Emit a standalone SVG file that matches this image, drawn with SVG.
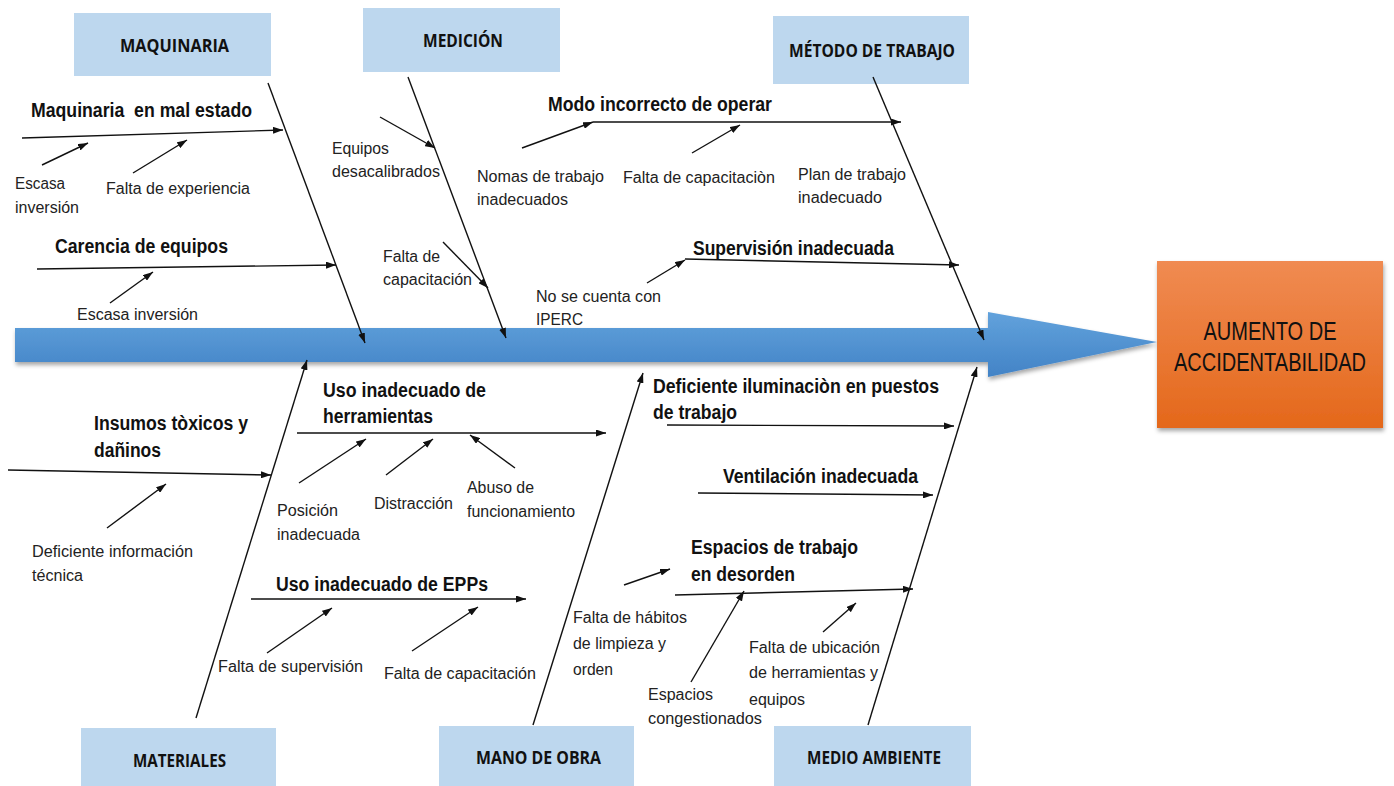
<svg xmlns="http://www.w3.org/2000/svg" width="1394" height="786" viewBox="0 0 1394 786">
<style>
.cat{fill:#bdd7ee}
.ct{font-family:"Open Sans","Liberation Sans",sans-serif;font-weight:bold;font-size:17px;fill:#111}
.b{font-family:"Liberation Sans",Arial,sans-serif;font-weight:bold;font-size:20px;fill:#111}
.s{font-family:"Liberation Sans",Arial,sans-serif;font-size:16px;fill:#222}
.h{font-family:"Liberation Sans",Arial,sans-serif;font-size:26px;fill:#111}
.ln{stroke:#111;stroke-width:1.4;fill:none;marker-end:url(#ah)}
</style>
<defs>
<marker id="ah" markerUnits="userSpaceOnUse" markerWidth="10" markerHeight="7" refX="10" refY="3.5" orient="auto">
<path d="M0,0 L10,3.5 L0,7 z" fill="#111"/>
</marker>
<linearGradient id="gb" x1="0" y1="0" x2="0" y2="1">
<stop offset="0" stop-color="#62a2dc"/>
<stop offset="1" stop-color="#4283c6"/>
</linearGradient>
<linearGradient id="go" x1="0" y1="0" x2="0" y2="1">
<stop offset="0" stop-color="#f08b52"/>
<stop offset="1" stop-color="#e4681b"/>
</linearGradient>
<filter id="sh" x="-5%" y="-20%" width="110%" height="150%">
<feDropShadow dx="1" dy="3" stdDeviation="2" flood-color="#000" flood-opacity="0.35"/>
</filter>
</defs>
<rect width="1394" height="786" fill="#fff"/>

<g id="spine" filter="url(#sh)">
<path d="M15,328 H988 V312 L1157,342 L988,377 V362 H15 Z" fill="url(#gb)"/>
</g>

<g id="effect">
<rect x="1157" y="261" width="226" height="167" fill="url(#go)" filter="url(#sh)"/>
<text class="h" transform="translate(1270,340) scale(0.77,1)" text-anchor="middle">AUMENTO DE</text>
<text class="h" transform="translate(1270,371) scale(0.77,1)" text-anchor="middle">ACCIDENTABILIDAD</text>
</g>

<g id="cat-maquinaria">
<rect class="cat" x="74" y="13" width="197" height="63"/>
<text class="ct" x="120" y="52" textLength="109" lengthAdjust="spacingAndGlyphs">MAQUINARIA</text>
</g>
<g id="cat-medicion">
<rect class="cat" x="363" y="8" width="197" height="64"/>
<text class="ct" x="423" y="47" textLength="80" lengthAdjust="spacingAndGlyphs">MEDICIÓN</text>
</g>
<g id="cat-metodo">
<rect class="cat" x="773" y="16" width="196" height="68"/>
<text class="ct" x="789" y="57" textLength="166" lengthAdjust="spacingAndGlyphs">MÉTODO DE TRABAJO</text>
</g>
<g id="cat-materiales">
<rect class="cat" x="81" y="728" width="195" height="58"/>
<text class="ct" x="133" y="767" textLength="93" lengthAdjust="spacingAndGlyphs">MATERIALES</text>
</g>
<g id="cat-mano">
<rect class="cat" x="439" y="726" width="195" height="60"/>
<text class="ct" x="476" y="764" textLength="125" lengthAdjust="spacingAndGlyphs">MANO DE OBRA</text>
</g>
<g id="cat-medio">
<rect class="cat" x="774" y="726" width="197" height="60"/>
<text class="ct" x="807" y="764" textLength="134" lengthAdjust="spacingAndGlyphs">MEDIO AMBIENTE</text>
</g>

<g id="connectors">
<line class="ln" x1="268" y1="83" x2="365" y2="343"/>
<line class="ln" x1="408" y1="77" x2="506" y2="338"/>
<line class="ln" x1="873" y1="77" x2="984" y2="340"/>
<line class="ln" x1="196" y1="718" x2="307" y2="360"/>
<line class="ln" x1="533" y1="725" x2="643" y2="373"/>
<line class="ln" x1="868" y1="725" x2="977" y2="367"/>
<line class="ln" x1="22" y1="138" x2="283" y2="130"/>
<line class="ln" x1="42" y1="165" x2="88" y2="143"/>
<line class="ln" x1="133" y1="173" x2="187" y2="140"/>
<line class="ln" x1="37" y1="269" x2="336" y2="265"/>
<line class="ln" x1="110" y1="303" x2="153" y2="272"/>
<line class="ln" x1="380" y1="117" x2="435" y2="148"/>
<line class="ln" x1="443" y1="242" x2="488" y2="288"/>
<line class="ln" x1="522" y1="148" x2="593" y2="122"/>
<line class="ln" x1="593" y1="122" x2="901" y2="122"/>
<line class="ln" x1="692" y1="153" x2="740" y2="125"/>
<line class="ln" x1="685" y1="259" x2="959" y2="265"/>
<line class="ln" x1="647" y1="283" x2="685" y2="260"/>
<line class="ln" x1="8" y1="470" x2="271" y2="475"/>
<line class="ln" x1="107" y1="528" x2="166" y2="484"/>
<line class="ln" x1="297" y1="433" x2="606" y2="433"/>
<line class="ln" x1="299" y1="483" x2="366" y2="439"/>
<line class="ln" x1="386" y1="475" x2="433" y2="439"/>
<line class="ln" x1="515" y1="468" x2="470" y2="435"/>
<line class="ln" x1="251" y1="599" x2="526" y2="599"/>
<line class="ln" x1="267" y1="653" x2="332" y2="608"/>
<line class="ln" x1="412" y1="651" x2="478" y2="607"/>
<line class="ln" x1="667" y1="425" x2="954" y2="426"/>
<line class="ln" x1="698" y1="493" x2="933" y2="495"/>
<line class="ln" x1="675" y1="595" x2="913" y2="589"/>
<line class="ln" x1="624" y1="585" x2="670" y2="569"/>
<line class="ln" x1="691" y1="682" x2="744" y2="591"/>
<line class="ln" x1="823" y1="632" x2="856" y2="603"/>
</g>

<g id="labels-maquinaria">
<text class="b" x="31" y="117" textLength="221" lengthAdjust="spacingAndGlyphs" style="white-space:pre">Maquinaria  en mal estado</text>
<text class="s" x="15" y="189" textLength="50" lengthAdjust="spacingAndGlyphs">Escasa</text>
<text class="s" x="15" y="213" textLength="64" lengthAdjust="spacingAndGlyphs">inversión</text>
<text class="s" x="106" y="194" textLength="144" lengthAdjust="spacingAndGlyphs">Falta de experiencia</text>
<text class="b" x="55" y="253" textLength="173" lengthAdjust="spacingAndGlyphs">Carencia de equipos</text>
<text class="s" x="77" y="320" textLength="121" lengthAdjust="spacingAndGlyphs">Escasa inversión</text>
</g>

<g id="labels-medicion">
<text class="s" x="332" y="154" textLength="57" lengthAdjust="spacingAndGlyphs">Equipos</text>
<text class="s" x="332" y="177" textLength="108" lengthAdjust="spacingAndGlyphs">desacalibrados</text>
<text class="s" x="383" y="262" textLength="57" lengthAdjust="spacingAndGlyphs">Falta de</text>
<text class="s" x="383" y="285" textLength="89" lengthAdjust="spacingAndGlyphs">capacitación</text>
</g>

<g id="labels-metodo">
<text class="b" x="548" y="111" textLength="224" lengthAdjust="spacingAndGlyphs">Modo incorrecto de operar</text>
<text class="s" x="477" y="182" textLength="127" lengthAdjust="spacingAndGlyphs">Nomas de trabajo</text>
<text class="s" x="477" y="205" textLength="91" lengthAdjust="spacingAndGlyphs">inadecuados</text>
<text class="s" x="623" y="183" textLength="152" lengthAdjust="spacingAndGlyphs">Falta de capacitaciòn</text>
<text class="s" x="798" y="180" textLength="108" lengthAdjust="spacingAndGlyphs">Plan de trabajo</text>
<text class="s" x="798" y="203" textLength="84" lengthAdjust="spacingAndGlyphs">inadecuado</text>
<text class="b" x="693" y="255" textLength="201" lengthAdjust="spacingAndGlyphs">Supervisión inadecuada</text>
<text class="s" x="536" y="302" textLength="125" lengthAdjust="spacingAndGlyphs">No se cuenta con</text>
<text class="s" x="536" y="325" textLength="47" lengthAdjust="spacingAndGlyphs">IPERC</text>
</g>

<g id="labels-materiales">
<text class="b" x="94" y="430" textLength="154" lengthAdjust="spacingAndGlyphs">Insumos tòxicos y</text>
<text class="b" x="94" y="457" textLength="67" lengthAdjust="spacingAndGlyphs">dañinos</text>
<text class="s" x="32" y="557" textLength="161" lengthAdjust="spacingAndGlyphs">Deficiente información</text>
<text class="s" x="32" y="581" textLength="51" lengthAdjust="spacingAndGlyphs">técnica</text>
</g>

<g id="labels-mano">
<text class="b" x="323" y="397" textLength="163" lengthAdjust="spacingAndGlyphs">Uso inadecuado de</text>
<text class="b" x="323" y="423" textLength="110" lengthAdjust="spacingAndGlyphs">herramientas</text>
<text class="s" x="277" y="516" textLength="61" lengthAdjust="spacingAndGlyphs">Posición</text>
<text class="s" x="277" y="540" textLength="83" lengthAdjust="spacingAndGlyphs">inadecuada</text>
<text class="s" x="374" y="509" textLength="79" lengthAdjust="spacingAndGlyphs">Distracción</text>
<text class="s" x="467" y="493" textLength="67" lengthAdjust="spacingAndGlyphs">Abuso de</text>
<text class="s" x="467" y="517" textLength="108" lengthAdjust="spacingAndGlyphs">funcionamiento</text>
<text class="b" x="276" y="591" textLength="212" lengthAdjust="spacingAndGlyphs">Uso inadecuado de EPPs</text>
<text class="s" x="218" y="672" textLength="145" lengthAdjust="spacingAndGlyphs">Falta de supervisión</text>
<text class="s" x="384" y="679" textLength="152" lengthAdjust="spacingAndGlyphs">Falta de capacitación</text>
</g>

<g id="labels-medio">
<text class="b" x="653" y="393" textLength="286" lengthAdjust="spacingAndGlyphs">Deficiente iluminaciòn en puestos</text>
<text class="b" x="653" y="419" textLength="84" lengthAdjust="spacingAndGlyphs">de trabajo</text>
<text class="b" x="723" y="483" textLength="195" lengthAdjust="spacingAndGlyphs">Ventilación inadecuada</text>
<text class="b" x="691" y="554" textLength="167" lengthAdjust="spacingAndGlyphs">Espacios de trabajo</text>
<text class="b" x="691" y="581" textLength="104" lengthAdjust="spacingAndGlyphs">en desorden</text>
<text class="s" x="573" y="623" textLength="114" lengthAdjust="spacingAndGlyphs">Falta de hábitos</text>
<text class="s" x="573" y="649" textLength="93" lengthAdjust="spacingAndGlyphs">de limpieza y</text>
<text class="s" x="573" y="675" textLength="40" lengthAdjust="spacingAndGlyphs">orden</text>
<text class="s" x="648" y="700" textLength="65" lengthAdjust="spacingAndGlyphs">Espacios</text>
<text class="s" x="648" y="724" textLength="114" lengthAdjust="spacingAndGlyphs">congestionados</text>
<text class="s" x="749" y="653" textLength="131" lengthAdjust="spacingAndGlyphs">Falta de ubicación</text>
<text class="s" x="749" y="678" textLength="129" lengthAdjust="spacingAndGlyphs">de herramientas y</text>
<text class="s" x="749" y="705" textLength="56" lengthAdjust="spacingAndGlyphs">equipos</text>
</g>
</svg>
